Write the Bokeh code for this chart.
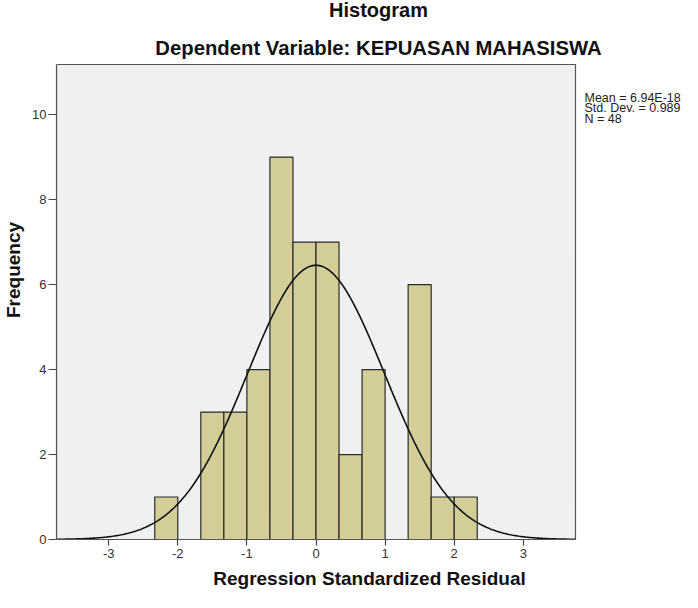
import numpy as np
from bokeh.plotting import figure
from bokeh.models import Range1d, FixedTicker
from bokeh.core.properties import value
from bokeh.embed import file_html
from bokeh.resources import INLINE

# ---- data ----
bin_width = 1 / 3
bin_lefts = [-7/3, -2, -5/3, -4/3, -1, -2/3, -1/3, 0, 1/3, 2/3, 1, 4/3, 5/3, 2]
counts = [1, 0, 3, 3, 4, 9, 7, 7, 2, 4, 0, 6, 1, 1]
stat_mean = 6.94e-18
stat_sd = 0.989
stat_n = 48
x_ticks = [-3, -2, -1, 0, 1, 2, 3]
y_ticks = [0, 2, 4, 6, 8, 10]
stats_lines = ["Mean = 6.94E-18", "Std. Dev. = 0.989", "N = 48"]
title_main = "Histogram"
title_sub = "Dependent Variable: KEPUASAN MAHASISWA"
x_label = "Regression Standardized Residual"
y_label = "Frequency"

FONT = "Liberation Sans"

# ---- layout (canvas pixels) ----
W, H = 682, 592
L = 56                 # left edge of the grey plotting area
GREY_TOP = 64          # top edge of the grey plotting area
GREY_BOTTOM = 539      # bottom edge (y = 0)
GREY_RIGHT = 575
X0, X1 = -3.755, 3.755
Y0, Y1 = 0, 11.18
PXU_X = (GREY_RIGHT - L) / (X1 - X0)
PXU_Y = (GREY_BOTTOM - GREY_TOP) / (Y1 - Y0)
x_end = X0 + (W - L) / PXU_X
y_end = Y0 + GREY_BOTTOM / PXU_Y


def dx(px):
    return X0 + (px - L) / PXU_X


def dy(py):
    return Y0 + (GREY_BOTTOM - py) / PXU_Y


p = figure(width=W, height=H, output_backend="svg", toolbar_location=None,
           x_range=Range1d(X0, x_end), y_range=Range1d(Y0, y_end),
           min_border_left=L, min_border_right=0, min_border_top=0,
           min_border_bottom=H - GREY_BOTTOM)

p.background_fill_color = "white"
p.border_fill_color = "white"
p.outline_line_color = None
p.grid.visible = False
p.title.visible = False

# grey plotting area with its outline
p.quad(left=[X0], right=[X1], bottom=[Y0], top=[Y1],
       fill_color="#f0f0f0", line_color="#555555", line_width=1.2)

lefts = [l for l, c in zip(bin_lefts, counts) if c > 0]
tops = [c for c in counts if c > 0]
rights = [l + bin_width for l in lefts]
p.quad(left=lefts, right=rights, bottom=0, top=tops,
       fill_color="#d3ce97", line_color="#2b2b2b", line_width=1.2)

xs = np.linspace(X0, X1, 400)
ys = stat_n * bin_width * np.exp(-0.5 * ((xs - stat_mean) / stat_sd) ** 2) / (stat_sd * np.sqrt(2 * np.pi))
p.line(xs, ys, line_color="#111111", line_width=1.6)

for ax in (p.xaxis[0], p.yaxis[0]):
    ax.axis_line_color = "#555555"
    ax.axis_line_width = 1.2
    ax.major_tick_line_color = "#444444"
    ax.major_tick_line_width = 1.2
    ax.major_tick_in = 0
    ax.minor_tick_line_color = None
    ax.major_label_text_font = FONT
    ax.major_label_text_font_size = "13px"
    ax.major_label_text_color = "#333333"
    ax.axis_label_text_font = FONT
    ax.axis_label_text_font_size = "19px"
    ax.axis_label_text_font_style = "bold"
    ax.axis_label_text_color = "#111111"

p.xaxis.bounds = (X0, X1)
p.yaxis.bounds = (Y0, Y1)
p.xaxis.ticker = FixedTicker(ticks=x_ticks)
p.yaxis.ticker = FixedTicker(ticks=y_ticks)
p.xaxis.major_label_overrides = {t: str(t) for t in x_ticks}
p.xaxis.major_tick_out = 6
p.yaxis.major_tick_out = 8
p.xaxis.major_label_standoff = 3
p.yaxis.major_label_standoff = 2
p.xaxis.axis_label = x_label
p.yaxis.axis_label = y_label
p.xaxis.axis_label_standoff = 7
p.yaxis.axis_label_standoff = 5

# titles (drawn inside the extended frame, above the grey area)
title_cx = 378
p.text(x=[dx(title_cx)], y=[dy(9)], text=[title_main], text_font=value(FONT),
       text_font_size="20px", text_font_style="bold", text_color="#111111",
       text_align="center", text_baseline="alphabetic")
p.text(x=[dx(title_cx)], y=[dy(47)], text=[title_sub], text_font=value(FONT),
       text_font_size="20.3px", text_font_style="bold", text_color="#111111",
       text_align="center", text_baseline="alphabetic")

# statistics box text, right of the grey area
stat_rows_px = [97, 107.5, 118]
p.text(x=[dx(584)] * len(stats_lines), y=[dy(r) for r in stat_rows_px], text=stats_lines,
       text_font=value(FONT), text_font_size="12.5px", text_color="#222222",
       text_baseline="middle")

open("out.html", "w").write(file_html(p, INLINE))
